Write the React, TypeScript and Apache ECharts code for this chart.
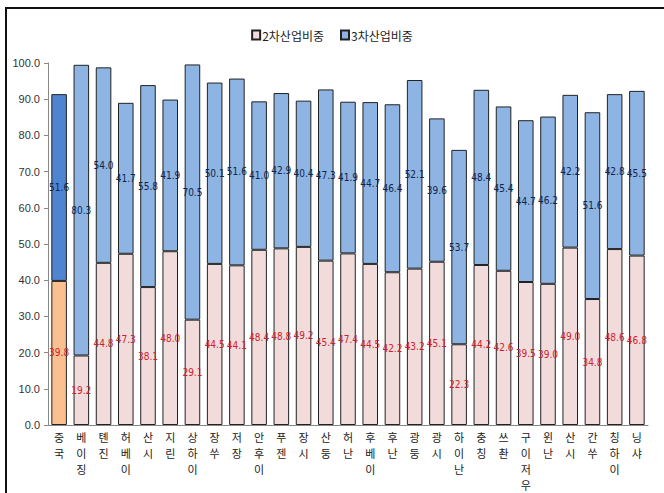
import React, { useEffect, useRef } from "react";
import * as echarts from "echarts";

const categories = ["중국", "베이징", "톈진", "허베이", "산시", "지린", "상하이", "장쑤", "저장", "안후이", "푸젠", "장시", "산둥", "허난", "후베이", "후난", "광둥", "광시", "하이난", "충칭", "쓰촨", "구이저우", "윈난", "산시", "간쑤", "칭하이", "닝샤"];
const secondary = [39.8, 19.2, 44.8, 47.3, 38.1, 48.0, 29.1, 44.5, 44.1, 48.4, 48.8, 49.2, 45.4, 47.4, 44.5, 42.2, 43.2, 45.1, 22.3, 44.2, 42.6, 39.5, 39.0, 49.0, 34.8, 48.6, 46.8];
const tertiary = [51.6, 80.3, 54.0, 41.7, 55.8, 41.9, 70.5, 50.1, 51.6, 41.0, 42.9, 40.4, 47.3, 41.9, 44.7, 46.4, 52.1, 39.6, 53.7, 48.4, 45.4, 44.7, 46.2, 42.2, 51.6, 42.8, 45.5];
const seriesNames = ["2차산업비중", "3차산업비중"];

const labelFont = "'Liberation Sans Narrow', 'DejaVu Sans Condensed', 'Liberation Sans', sans-serif";
const krFont = "'Noto Sans CJK KR', sans-serif";

export default function App() {
  const ref = useRef<HTMLDivElement>(null);
  useEffect(() => {
    if (!ref.current) return;
    const chart = echarts.init(ref.current, undefined, { renderer: "svg" });
    const mk = (vals: number[], special: string) =>
      vals.map((v, i) => (i === 0 ? { value: v, itemStyle: { color: special } } : v));
    chart.setOption({
      animation: false,
      backgroundColor: "#fff",
      legend: {
        top: 24,
        left: "center",
        icon: "rect",
        itemWidth: 8,
        itemHeight: 9,
        itemGap: 16,
        textStyle: { fontFamily: krFont, fontSize: 12, color: "#222", padding: [0, 0, 0, -3] },
        data: seriesNames,
      },
      grid: { left: 48, right: 16, top: 63, bottom: 63 },
      xAxis: {
        type: "category",
        data: categories,
        axisLine: { lineStyle: { color: "#888" } },
        axisTick: { length: 5, lineStyle: { color: "#888" } },
        axisLabel: {
          interval: 0,
          margin: 4,
          fontFamily: krFont,
          fontSize: 11,
          lineHeight: 16,
          color: "#222",
          formatter: (s: string) => s.split("").join("\n"),
        },
      },
      yAxis: {
        type: "value",
        min: 0,
        max: 100,
        interval: 10,
        splitLine: { show: false },
        axisLine: { show: true, lineStyle: { color: "#888" } },
        axisTick: { show: true, length: 4, lineStyle: { color: "#888" } },
        axisLabel: {
          fontFamily: "'Liberation Sans', sans-serif",
          fontSize: 11,
          color: "#333",
          margin: 8,
          formatter: (v: number) => v.toFixed(1),
        },
      },
      series: [
        {
          name: seriesNames[0],
          type: "bar",
          stack: "s",
          barWidth: "70%",
          data: mk(secondary, "#FAC090"),
          itemStyle: { color: "#F2DCDB", borderColor: "#222", borderWidth: 1 },
          label: {
            show: true,
            position: "inside",
            fontFamily: labelFont,
            fontSize: 10,
            color: "#D0202C",
            formatter: (p: any) => Number(p.value).toFixed(1),
          },
        },
        {
          name: seriesNames[1],
          type: "bar",
          stack: "s",
          barWidth: "70%",
          data: mk(tertiary, "#4F85D0"),
          itemStyle: { color: "#8DB4E2", borderColor: "#222", borderWidth: 1 },
          label: {
            show: true,
            position: "inside",
            fontFamily: labelFont,
            fontSize: 10,
            color: "#10244A",
            formatter: (p: any) => Number(p.value).toFixed(1),
          },
        },
      ],
      graphic: [
        { type: "line", shape: { x1: 5, y1: 8, x2: 664, y2: 8 }, style: { stroke: "#111", lineWidth: 2 } },
        { type: "line", shape: { x1: 6, y1: 8, x2: 6, y2: 493 }, style: { stroke: "#111", lineWidth: 2 } },
      ],
    });
    return () => chart.dispose();
  }, []);
  return <div ref={ref} style={{ position: "fixed", left: 0, top: 0, width: 664, height: 493 }} />;
}
